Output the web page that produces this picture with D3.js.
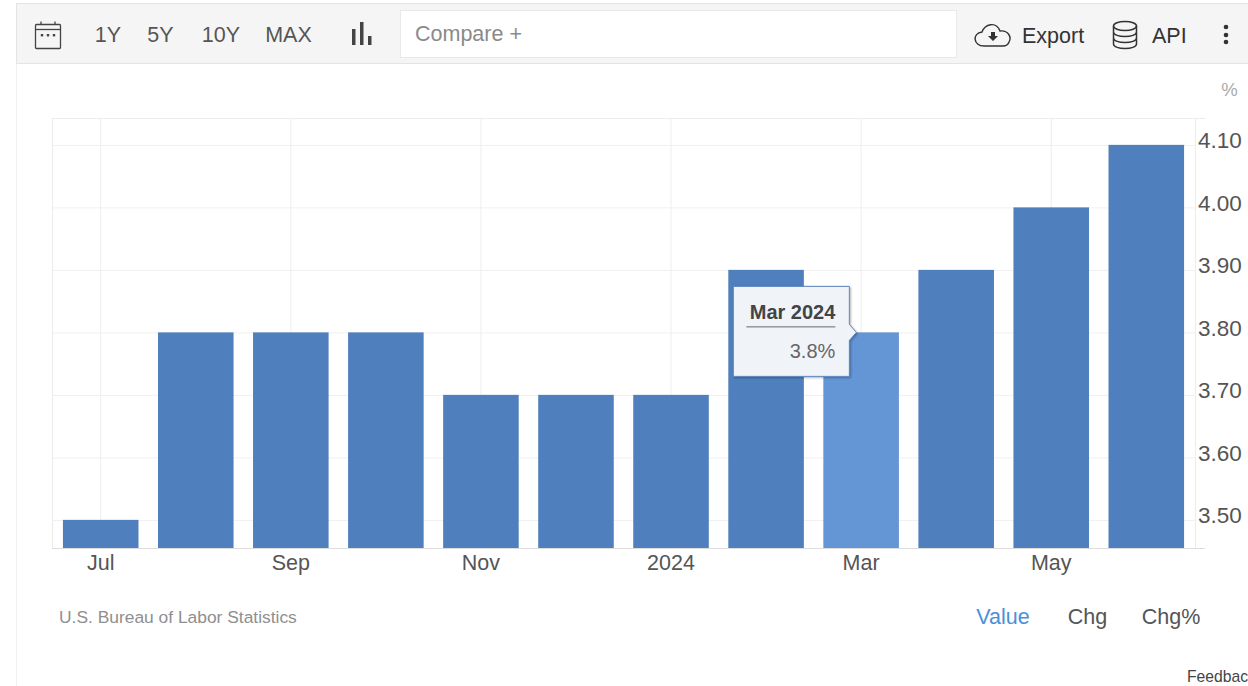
<!DOCTYPE html>
<html>
<head>
<meta charset="utf-8">
<script src="https://cdn.jsdelivr.net/npm/d3@7"></script>
<style>
  html, body { margin: 0; padding: 0; background: #fff; overflow: hidden; }
  svg { display: block; }
  text { font-family: "Liberation Sans", Arial, sans-serif; }
</style>
</head>
<body>
<svg></svg>
<script>
// data
const months = ["Jul", "Aug", "Sep", "Oct", "Nov", "Dec", "Jan", "Feb", "Mar", "Apr", "May", "Jun"];
const rates = [3.5, 3.8, 3.8, 3.8, 3.7, 3.7, 3.7, 3.9, 3.8, 3.9, 4.0, 4.1];
const yTicks = [3.5, 3.6, 3.7, 3.8, 3.9, 4.0, 4.1];
const xLabels = {Jul: "Jul", Sep: "Sep", Nov: "Nov", Jan: "2024", Mar: "Mar", May: "May"};
const rangeButtons = ["1Y", "5Y", "10Y", "MAX"];
const rangeButtonX = [108, 160.5, 221, 288.5];
const viewButtons = ["Value", "Chg", "Chg%"];
const viewButtonX = [1003, 1087.5, 1171];
const hoverMonth = "Mar";

let width = 1248,
    height = 686;

let margin = {top: 118, bottom: 138, left: 52, right: 53};

let svg = d3.select("svg").attr("width", width).attr("height", height);

// -----------------------------
// PAGE FRAME + TOOLBAR
// -----------------------------
svg.append("line")
   .attr("x1", 16.5).attr("x2", 16.5).attr("y1", 3).attr("y2", height)
   .attr("stroke", "#f1f1f1");

svg.append("rect")
   .attr("x", 16.5).attr("y", 3.5).attr("width", width - 16).attr("height", 60)
   .attr("fill", "#f5f5f5").attr("stroke", "#e4e4e4");

svg.append("rect")
   .attr("x", 400.5).attr("y", 10.5).attr("width", 556).attr("height", 47)
   .attr("fill", "#fff").attr("stroke", "#e9e9e9");

svg.append("text").attr("x", 415).attr("y", 41)
   .attr("font-size", 21.5).attr("fill", "#8a8a8a").text("Compare +");

svg.selectAll(".range-btn")
   .data(rangeButtons)
   .enter()
   .append("text")
   .attr("class", "range-btn")
   .attr("x", (d, i) => rangeButtonX[i])
   .attr("y", 42)
   .attr("text-anchor", "middle")
   .attr("font-size", 21.5)
   .attr("fill", "#555")
   .text(d => d);

// calendar icon
let cal = svg.append("g").attr("fill", "none").attr("stroke", "#444").attr("stroke-width", 1.3);
cal.append("rect").attr("x", 35.5).attr("y", 24.5).attr("width", 25).attr("height", 24).attr("rx", 1);
cal.append("line").attr("x1", 35.5).attr("x2", 60.5).attr("y1", 29.5).attr("y2", 29.5);
cal.append("path").attr("d", "M41 21.5V24.5M55 21.5V24.5");
svg.selectAll(".cal-dot")
   .data([42, 48, 54])
   .enter()
   .append("rect")
   .attr("class", "cal-dot")
   .attr("x", d => d - 1.2).attr("y", 34).attr("width", 2.4).attr("height", 2.4)
   .attr("fill", "#444");

// bar type icon
svg.append("path")
   .attr("d", "M352 29h3.5v16h-3.5zM360 22h3.5v23h-3.5zM368 36h3.5v9h-3.5z")
   .attr("fill", "#444");

// cloud export icon
svg.append("path")
   .attr("d", "M984 46 C973 46 972 33 982 32 C985 24 996 21 1000 31 C1008 30 1012 37 1009 42 C1008 45 1006 46 1003 46 Z")
   .attr("fill", "none").attr("stroke", "#333").attr("stroke-width", 1.4);
svg.append("path")
   .attr("d", "M991 32h4v4h3l-5 5l-5-5h3z")
   .attr("fill", "#333");
svg.append("text").attr("x", 1022).attr("y", 43)
   .attr("font-size", 21.5).attr("fill", "#333").text("Export");

// database icon
let db = svg.append("g").attr("fill", "none").attr("stroke", "#333").attr("stroke-width", 1.5);
db.append("ellipse").attr("cx", 1125).attr("cy", 26).attr("rx", 11.5).attr("ry", 4.5);
db.append("path").attr("d", "M1113.5 26V44C1113.5 50 1136.5 50 1136.5 44V26M1113.5 32C1113.5 38 1136.5 38 1136.5 32M1113.5 38C1113.5 44 1136.5 44 1136.5 38");
svg.append("text").attr("x", 1152).attr("y", 43)
   .attr("font-size", 21.5).attr("fill", "#333").text("API");

// kebab menu
svg.selectAll(".kebab")
   .data([27, 35, 42])
   .enter()
   .append("circle")
   .attr("class", "kebab")
   .attr("cx", 1226).attr("cy", d => d).attr("r", 2.3)
   .attr("fill", "#333");

// -----------------------------
// SCALES
// -----------------------------
let xScale = d3.scaleBand()
               .domain(months)
               .range([margin.left, width - margin.right])
               .paddingInner(0.205)
               .paddingOuter(0.115);

let yScale = d3.scaleLinear()
               .domain([3.455, 4.143])
               .range([height - margin.bottom, margin.top]);

// -----------------------------
// GRID
// -----------------------------
let gridX = svg.append("g")
   .attr("transform", `translate(0, ${height - margin.bottom})`)
   .call(d3.axisBottom(xScale)
           .tickValues(Object.keys(xLabels))
           .tickSize(-(height - margin.top - margin.bottom))
           .tickFormat(""));
gridX.select(".domain").remove();
gridX.selectAll("line").attr("stroke", "#eeeeee");

let gridY = svg.append("g")
   .attr("transform", `translate(${margin.left}, 0)`)
   .call(d3.axisLeft(yScale)
           .tickValues(yTicks)
           .tickSize(-(width - margin.left - margin.right))
           .tickFormat(""));
gridY.select(".domain").remove();
gridY.selectAll("line").attr("stroke", "#f0f0f0");

// plot frame
svg.append("path")
   .attr("d", `M${margin.left + 0.5} ${height - margin.bottom}V${margin.top + 0.5}H${width - margin.right + 10}M${width - margin.right + 0.5} ${margin.top}V${height - margin.bottom}`)
   .attr("fill", "none").attr("stroke", "#ececec");

// -----------------------------
// BARS
// -----------------------------
svg.selectAll(".bar")
   .data(months)
   .enter()
   .append("rect")
   .attr("class", "bar")
   .attr("x", d => xScale(d))
   .attr("width", xScale.bandwidth())
   .attr("y", (d, i) => yScale(rates[i]))
   .attr("height", (d, i) => height - margin.bottom - yScale(rates[i]))
   .attr("fill", d => d === hoverMonth ? "#6495d5" : "#4f80bd");

svg.append("line")
   .attr("x1", margin.left).attr("x2", width - margin.right + 10)
   .attr("y1", height - margin.bottom + 0.5).attr("y2", height - margin.bottom + 0.5)
   .attr("stroke", "#dddddd");

// -----------------------------
// AXES
// -----------------------------
let xAxis = svg.append("g")
   .attr("transform", `translate(0, ${height - margin.bottom})`)
   .call(d3.axisBottom(xScale)
           .tickValues(Object.keys(xLabels))
           .tickSize(0)
           .tickPadding(7)
           .tickFormat(d => xLabels[d]));
xAxis.select(".domain").remove();
xAxis.selectAll("text")
     .attr("font-size", 21.5)
     .attr("font-family", "Liberation Sans, Arial, sans-serif")
     .attr("fill", "#555");

let yAxis = svg.append("g")
   .attr("transform", `translate(${width - margin.right}, 0)`)
   .call(d3.axisRight(yScale)
           .tickValues(yTicks)
           .tickSize(0)
           .tickPadding(3)
           .tickFormat(d3.format(".2f")));
yAxis.select(".domain").remove();
yAxis.selectAll("text")
     .attr("font-size", 22.5)
     .attr("font-family", "Liberation Sans, Arial, sans-serif")
     .attr("fill", "#555")
     .attr("dy", "0.12em");

svg.append("text").attr("x", 1229.5).attr("y", 96)
   .attr("text-anchor", "middle").attr("font-size", 18.5).attr("fill", "#aaa").text("%");

// -----------------------------
// TOOLTIP
// -----------------------------
let hoverX = xScale(hoverMonth);
let hoverY = yScale(rates[months.indexOf(hoverMonth)]);
let tip = svg.append("g");

tip.append("path")
   .attr("d", `M${hoverX - 90} ${hoverY - 46}H${hoverX + 26}V${hoverY - 8}L${hoverX + 33} ${hoverY}L${hoverX + 26} ${hoverY + 8}V${hoverY + 44}H${hoverX - 90}Z`)
   .attr("fill", "#f0f4f9")
   .attr("stroke", "#5f87bd")
   .attr("stroke-width", 1)
   .style("filter", "drop-shadow(1px 1px 1px rgba(0,0,0,0.3))");

tip.append("text")
   .attr("x", hoverX + 12).attr("y", hoverY - 13)
   .attr("text-anchor", "end").attr("font-size", 20).attr("font-weight", "bold")
   .attr("fill", "#444").text(hoverMonth + " 2024");

tip.append("line")
   .attr("x1", hoverX - 77).attr("x2", hoverX + 12)
   .attr("y1", hoverY - 5.5).attr("y2", hoverY - 5.5)
   .attr("stroke", "#666");

tip.append("text")
   .attr("x", hoverX + 12).attr("y", hoverY + 26)
   .attr("text-anchor", "end").attr("font-size", 20)
   .attr("fill", "#666").text(rates[months.indexOf(hoverMonth)].toFixed(1) + "%");

// -----------------------------
// FOOTER
// -----------------------------
svg.append("text").attr("x", 59).attr("y", 623)
   .attr("font-size", 17.4).attr("fill", "#8f8f8f").text("U.S. Bureau of Labor Statistics");

svg.selectAll(".view-btn")
   .data(viewButtons)
   .enter()
   .append("text")
   .attr("class", "view-btn")
   .attr("x", (d, i) => viewButtonX[i])
   .attr("y", 624)
   .attr("text-anchor", "middle")
   .attr("font-size", 21.5)
   .attr("fill", (d, i) => i === 0 ? "#4a90d9" : "#555")
   .text(d => d);

// runs off the right edge in the reference too
svg.append("text").attr("x", 1187).attr("y", 682)
   .attr("font-size", 15.7).attr("fill", "#444").text("Feedback");
</script>
</body>
</html>
